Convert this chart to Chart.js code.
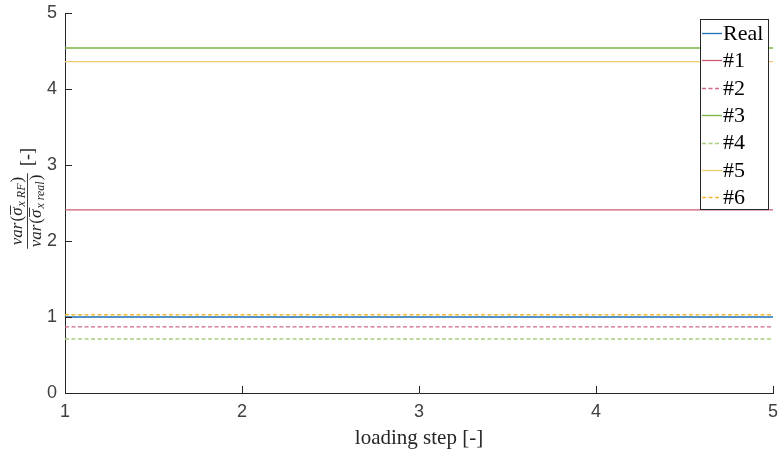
<!DOCTYPE html>
<html>
<head>
<meta charset="utf-8">
<script src="https://cdn.jsdelivr.net/npm/chart.js@4"></script>
<style>
  html, body { margin: 0; padding: 0; background: #fff; }
  #wrap { width: 781px; height: 455px; }
</style>
</head>
<body>
<div id="wrap"><canvas id="graphVar" width="781" height="455"></canvas></div>
<script>
// loading steps on the x axis
const loadingSteps = [1, 2, 3, 4, 5];
const yTicks = [0, 1, 2, 3, 4, 5];

// ratio values
const realVals = [1.00, 1.00, 1.00, 1.00, 1.00];
const rf1Vals  = [2.41, 2.41, 2.41, 2.41, 2.41];
const rf2Vals  = [0.87, 0.87, 0.87, 0.87, 0.87];
const rf3Vals  = [4.54, 4.54, 4.54, 4.54, 4.54];
const rf4Vals  = [0.71, 0.71, 0.71, 0.71, 0.71];
const rf5Vals  = [4.36, 4.36, 4.36, 4.36, 4.36];
const rf6Vals  = [1.03, 1.03, 1.03, 1.03, 1.03];

const seriesNames = ['Real', '#1', '#2', '#3', '#4', '#5', '#6'];
const seriesVals = [realVals, rf1Vals, rf2Vals, rf3Vals, rf4Vals, rf5Vals, rf6Vals];
const seriesColors = ['#1a6fb8', '#cc5c76', '#cf6a82', '#7cb23c', '#a6cf7c', '#f3cb6c', '#f3b933'];
const seriesDash = [[], [], [4, 2.5], [], [4, 2.5], [], [4, 2.5]];

const serif = '"Liberation Serif", "DejaVu Serif", serif';
const sans = '"Liberation Sans", Arial, sans-serif';
const axisColor = '#262626';

function mathRun(ctx, parts, x, y, draw) {
    let cx = x;
    parts.forEach(function (p) {
        ctx.font = p.font;
        const w = ctx.measureText(p.t).width + (p.gap || 0);
        if (draw) {
            ctx.fillText(p.t, cx, y + (p.dy || 0));
            if (p.bar) {
                ctx.beginPath();
                ctx.lineWidth = 0.9;
                ctx.moveTo(cx + 1, y - 11.5);
                ctx.lineTo(cx + w + 1, y - 11.5);
                ctx.stroke();
            }
        }
        cx += w;
    });
    return cx - x;
}

const decorPlugin = {
    id: 'decor',
    afterDraw: function (chart) {
        const ctx = chart.ctx;
        const area = chart.chartArea;
        const xs = chart.scales.x;
        const ys = chart.scales.y;

        // inward tick marks
        ctx.save();
        ctx.strokeStyle = axisColor;
        ctx.lineWidth = 1;
        ctx.beginPath();
        loadingSteps.forEach(function (v) {
            const px = Math.round(xs.getPixelForValue(v)) + 0.5;
            ctx.moveTo(px, area.bottom);
            ctx.lineTo(px, area.bottom - 7);
        });
        yTicks.forEach(function (v) {
            const py = Math.round(ys.getPixelForValue(v)) + 0.5;
            ctx.moveTo(area.left, py);
            ctx.lineTo(area.left + 7, py);
        });
        ctx.stroke();

        // x axis title
        ctx.fillStyle = axisColor;
        ctx.font = '21px ' + serif;
        ctx.textAlign = 'center';
        ctx.textBaseline = 'alphabetic';
        ctx.fillText('loading step [-]', (area.left + area.right) / 2, 444);

        // y axis title, a rotated fraction
        ctx.translate(27, 211);
        ctx.rotate(-Math.PI / 2);
        ctx.textAlign = 'left';
        ctx.strokeStyle = axisColor;
        const it = 'italic 17px ' + serif;
        const itSub = 'italic 12px ' + serif;
        const up = '17px ' + serif;
        const num = [
            {t: 'var', font: it, gap: 1}, {t: '(', font: up}, {t: 'σ', font: it, bar: true, gap: 1},
            {t: 'x RF', font: itSub, dy: 3, gap: 1}, {t: ')', font: up}
        ];
        const den = [
            {t: 'var', font: it, gap: 1}, {t: '(', font: up}, {t: 'σ', font: it, bar: true, gap: 1},
            {t: 'x real', font: itSub, dy: 3, gap: 1}, {t: ')', font: up}
        ];
        const nw = mathRun(ctx, num, 0, 0, false);
        const dw = mathRun(ctx, den, 0, 0, false);
        const fw = Math.max(nw, dw) + 3;
        const x0 = -fw / 2;
        mathRun(ctx, num, x0 + (fw - nw) / 2, -5, true);
        mathRun(ctx, den, x0 + (fw - dw) / 2, 14, true);
        ctx.beginPath();
        ctx.lineWidth = 0.9;
        ctx.moveTo(x0, 0.5);
        ctx.lineTo(x0 + fw, 0.5);
        ctx.stroke();
        ctx.font = '18px ' + serif;
        ctx.fillText('[-]', 45, 6);
        ctx.restore();

        // legend box
        ctx.save();
        const bx = 700.5, by = 19.5, bw = 68, bh = 190;
        ctx.fillStyle = '#fff';
        ctx.fillRect(bx, by, bw, bh);
        ctx.strokeStyle = axisColor;
        ctx.lineWidth = 1;
        ctx.strokeRect(bx, by, bw, bh);
        ctx.font = '22px ' + serif;
        ctx.textBaseline = 'middle';
        ctx.textAlign = 'left';
        seriesNames.forEach(function (name, i) {
            const ly = 33 + i * 27.4;
            ctx.beginPath();
            ctx.lineWidth = 1.3;
            ctx.strokeStyle = seriesColors[i];
            ctx.setLineDash(seriesDash[i]);
            ctx.moveTo(702, Math.round(ly) + 0.5);
            ctx.lineTo(722, Math.round(ly) + 0.5);
            ctx.stroke();
            ctx.setLineDash([]);
            ctx.fillStyle = '#000';
            ctx.fillText(name, 723, ly + 1);
        });
        ctx.restore();
    }
};

const datasets = seriesNames.map(function (name, i) {
    return {
        label: name,
        data: loadingSteps.map(function (s, k) { return {x: s, y: seriesVals[i][k]}; }),
        borderColor: seriesColors[i],
        borderWidth: 1.4,
        borderDash: seriesDash[i],
        fill: false,
        tension: 0,
        pointRadius: 0
    };
});

new Chart(document.getElementById('graphVar'), {
    type: 'line',
    data: {datasets: datasets},
    plugins: [decorPlugin],
    options: {
        responsive: false,
        animation: false,
        devicePixelRatio: 1,
        layout: {padding: {top: 13, right: 8, left: 0, bottom: 0}},
        plugins: {legend: {display: false}, tooltip: {enabled: false}},
        scales: {
            x: {
                type: 'linear',
                min: 1,
                max: 5,
                afterFit: function (scale) {
                    scale.height = 62;
                    scale.paddingLeft = 0;
                    scale.paddingRight = 0;
                },
                grid: {display: false, drawTicks: false},
                border: {display: true, color: axisColor, width: 1},
                ticks: {
                    stepSize: 1,
                    padding: 8,
                    color: '#404040',
                    font: {family: sans, size: 18},
                    maxRotation: 0
                }
            },
            y: {
                min: 0,
                max: 5,
                afterFit: function (scale) {
                    scale.width = 65;
                    scale.paddingTop = 0;
                    scale.paddingBottom = 0;
                },
                grid: {display: false, drawTicks: false},
                border: {display: true, color: axisColor, width: 1},
                ticks: {
                    stepSize: 1,
                    padding: 8,
                    color: '#404040',
                    font: {family: sans, size: 18}
                }
            }
        }
    }
});
</script>
</body>
</html>
